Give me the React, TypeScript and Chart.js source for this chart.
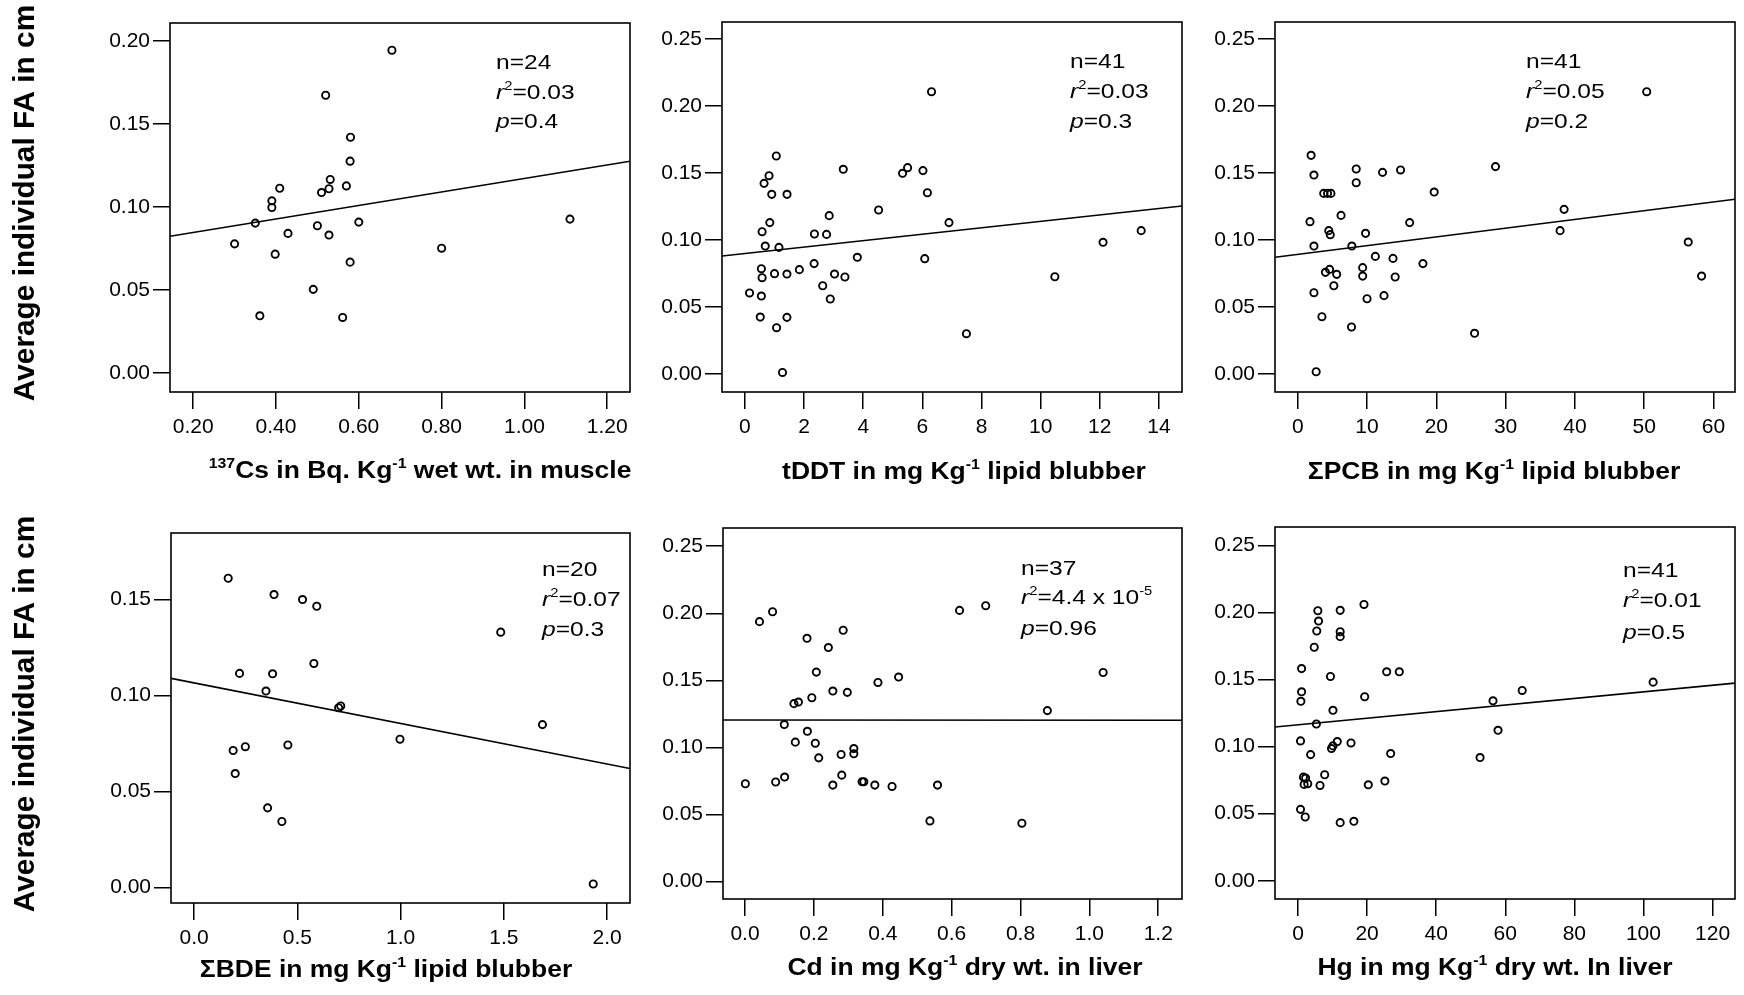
import React, { useEffect, useRef } from "react";
import { Chart, registerables } from "chart.js";

Chart.register(...registerables);

const FONT = '"Liberation Sans", Arial, Helvetica, sans-serif';

type Seg = { t: string; it?: boolean; sup?: boolean };

// ---------- Panel A: 137Cs ----------
const csX = [0.68, 0.52, 0.58, 0.579, 0.531, 0.528, 0.57, 0.51, 0.409, 0.39, 0.39, 0.35, 0.6, 0.5, 0.429, 0.528, 0.3, 0.398, 0.8, 1.11, 0.579, 0.49, 0.361, 0.561];
const csY = [0.1944, 0.1673, 0.142, 0.1276, 0.1166, 0.111, 0.1127, 0.1087, 0.1113, 0.1037, 0.0997, 0.0903, 0.0909, 0.0887, 0.0841, 0.0831, 0.0778, 0.0716, 0.0752, 0.0927, 0.0668, 0.0504, 0.0345, 0.0335];
const csFitX = [0.144, 1.255];
const csFitY = [0.0824, 0.1276];
const csXTicks = [0.2, 0.4, 0.6, 0.8, 1.0, 1.2];
const csXLabels = ["0.20", "0.40", "0.60", "0.80", "1.00", "1.20"];

// ---------- Panel B: tDDT ----------
const ddtX = [6.31, 1.06, 0.815, 0.647, 0.906, 1.423, 3.325, 5.33, 5.5, 6.02, 6.17, 4.52, 2.85, 6.9, 0.84, 0.58, 2.35, 2.76, 13.4, 12.11, 0.686, 1.15, 3.8, 6.08, 2.34, 0.556, 0.58, 1.0, 1.42, 1.84, 3.03, 3.38, 10.48, 2.63, 0.155, 0.556, 2.885, 0.518, 1.42, 1.07, 7.49, 1.27];
const ddtY = [0.2107, 0.1627, 0.148, 0.1423, 0.1341, 0.1341, 0.1528, 0.1498, 0.154, 0.1518, 0.1353, 0.1224, 0.1182, 0.113, 0.113, 0.1062, 0.1045, 0.1042, 0.107, 0.0983, 0.0955, 0.0945, 0.0871, 0.0861, 0.0824, 0.0786, 0.0719, 0.0749, 0.0746, 0.0779, 0.0746, 0.0724, 0.0726, 0.0659, 0.0605, 0.0582, 0.056, 0.0425, 0.0423, 0.0346, 0.0301, 0.0012];
const ddtFitX = [-0.776, 14.78];
const ddtFitY = [0.0881, 0.1254];
const ddtXTicks = [0, 2, 4, 6, 8, 10, 12, 14];
const ddtXLabels = ["0", "2", "4", "6", "8", "10", "12", "14"];

// ---------- Panel C: PCB ----------
const pcbX = [50.36, 1.93, 2.34, 8.44, 8.44, 12.24, 14.84, 28.54, 19.69, 3.75, 4.79, 6.25, 38.44, 1.77, 16.15, 4.48, 4.69, 9.79, 37.86, 2.34, 7.81, 56.35, 11.2, 13.75, 18.07, 4.0, 4.6, 5.62, 9.37, 9.37, 14.06, 58.28, 5.21, 2.34, 12.45, 10.0, 3.49, 7.76, 25.52, 2.66, 4.3];
const pcbY = [0.2107, 0.1632, 0.1485, 0.153, 0.1428, 0.1505, 0.1523, 0.1548, 0.1358, 0.1348, 0.1348, 0.1184, 0.1229, 0.1137, 0.113, 0.107, 0.104, 0.105, 0.107, 0.0955, 0.0955, 0.0985, 0.0878, 0.0863, 0.0824, 0.0759, 0.0781, 0.0744, 0.0794, 0.0731, 0.0724, 0.0731, 0.0659, 0.0607, 0.0585, 0.0562, 0.0428, 0.0351, 0.0304, 0.0017, 0.1348];
const pcbFitX = [-3.28, 63.1];
const pcbFitY = [0.0871, 0.1304];
const pcbXTicks = [0, 10, 20, 30, 40, 50, 60];
const pcbXLabels = ["0", "10", "20", "30", "40", "50", "60"];

// ---------- Panel D: BDE ----------
const bdeX = [0.165, 0.387, 0.525, 0.594, 1.485, 0.58, 0.22, 0.38, 0.348, 0.7, 1.687, 0.997, 0.189, 0.248, 0.454, 0.199, 0.356, 0.425, 1.933, 0.71];
const bdeY = [0.1611, 0.1526, 0.15, 0.1465, 0.133, 0.1167, 0.1115, 0.1113, 0.1023, 0.0936, 0.0848, 0.0772, 0.0713, 0.0733, 0.0742, 0.0593, 0.0414, 0.0343, 0.0017, 0.0945];
const bdeFitX = [-0.112, 2.111];
const bdeFitY = [0.1089, 0.0619];
const bdeXTicks = [0, 0.5, 1.0, 1.5, 2.0];
const bdeXLabels = ["0.0", "0.5", "1.0", "1.5", "2.0"];

// ---------- Panel E: Cd ----------
const cdX = [0.042, 0.08, 0.623, 0.699, 0.285, 0.18, 0.242, 0.207, 0.446, 1.04, 0.386, 0.255, 0.297, 0.194, 0.142, 0.155, 0.878, 0.114, 0.181, 0.146, 0.204, 0.316, 0.316, 0.279, 0.214, 0.281, 0.115, 0.089, 0.001, 0.255, 0.34, 0.377, 0.427, 0.559, 0.537, 0.804, 0.345];
const cdY = [0.1938, 0.2012, 0.2022, 0.2057, 0.1874, 0.1814, 0.1745, 0.1562, 0.1525, 0.1559, 0.1485, 0.1421, 0.1411, 0.1371, 0.1327, 0.1339, 0.1275, 0.1171, 0.1121, 0.104, 0.1032, 0.0992, 0.0953, 0.0948, 0.0923, 0.0794, 0.078, 0.0743, 0.073, 0.072, 0.0745, 0.072, 0.071, 0.072, 0.0453, 0.0436, 0.0745];
const cdFitX = [-0.064, 1.269];
const cdFitY = [0.1205, 0.1203];
const cdXTicks = [0, 0.2, 0.4, 0.6, 0.8, 1.0, 1.2];
const cdXLabels = ["0.0", "0.2", "0.4", "0.6", "0.8", "1.0", "1.2"];

// ---------- Panel F: Hg ----------
const hgX = [5.74, 5.95, 12.21, 19.1, 5.43, 12.21, 12.21, 4.7, 1.04, 25.67, 29.32, 9.39, 102.8, 1.04, 64.9, 0.83, 19.3, 56.45, 10.12, 5.32, 57.9, 0.73, 11.37, 15.34, 9.7, 10.1, 3.65, 26.82, 52.7, 7.72, 1.57, 1.77, 2.82, 6.37, 20.35, 25.15, 0.73, 2.09, 12.21, 16.17, 2.2];
const hgY = [0.2012, 0.1935, 0.2015, 0.2059, 0.1861, 0.1856, 0.1819, 0.174, 0.1581, 0.1557, 0.1557, 0.1522, 0.148, 0.1408, 0.1418, 0.1337, 0.1371, 0.1341, 0.127, 0.1168, 0.1121, 0.1042, 0.1037, 0.1027, 0.0985, 0.1005, 0.094, 0.0948, 0.0918, 0.079, 0.0772, 0.0718, 0.0723, 0.071, 0.0715, 0.0743, 0.0532, 0.0475, 0.0433, 0.0443, 0.0765];
const hgFitX = [-6.66, 126.5];
const hgFitY = [0.1146, 0.1473];
const hgXTicks = [0, 20, 40, 60, 80, 100, 120];
const hgXLabels = ["0", "20", "40", "60", "80", "100", "120"];

// ---------- Y ticks ----------
const yTicks25 = [0, 0.05, 0.1, 0.15, 0.2, 0.25];
const yLabels25 = ["0.00", "0.05", "0.10", "0.15", "0.20", "0.25"];
const yTicks20 = [0, 0.05, 0.1, 0.15, 0.2];
const yLabels20 = ["0.00", "0.05", "0.10", "0.15", "0.20"];
const yTicks15 = [0, 0.05, 0.1, 0.15];
const yLabels15 = ["0.00", "0.05", "0.10", "0.15"];

// ---------- Text ----------
const yAxisTitle = "Average individual FA in cm";
const statN = ["n=24", "n=41", "n=41", "n=20", "n=37", "n=41"];
const statR2 = ["=0.03", "=0.03", "=0.05", "=0.07", "=4.4 x 10", "=0.01"];
const statR2Exp = ["", "", "", "", "-5", ""];
const statP = ["=0.4", "=0.3", "=0.2", "=0.3", "=0.96", "=0.5"];
const xTitles: Seg[][] = [
  [{ t: "137", sup: true }, { t: "Cs in Bq. Kg" }, { t: "-1", sup: true }, { t: " wet wt. in muscle" }],
  [{ t: "tDDT in mg Kg" }, { t: "-1", sup: true }, { t: " lipid blubber" }],
  [{ t: "ΣPCB in mg Kg" }, { t: "-1", sup: true }, { t: " lipid blubber" }],
  [{ t: "ΣBDE in mg Kg" }, { t: "-1", sup: true }, { t: " lipid blubber" }],
  [{ t: "Cd in mg Kg" }, { t: "-1", sup: true }, { t: " dry wt. in liver" }],
  [{ t: "Hg in mg Kg" }, { t: "-1", sup: true }, { t: " dry wt. In liver" }],
];

type PanelCfg = {
  idx: number;
  box: [number, number, number, number];
  yW: number;
  xRange: [number, number];
  yRange: [number, number];
  xTicks: number[];
  xLabels: string[];
  yTicks: number[];
  yLabels: string[];
  xs: number[];
  ys: number[];
  fitX: number[];
  fitY: number[];
  titleCx: number;
  titleBase: number;
  statX: number;
  statBase: [number, number, number];
  yTitleC?: [number, number];
};

const PAD_T = 20;
const PAD_R = 8;
const X_H = 100;
const STRETCH = 1.15;

function drawSegs(
  ctx: CanvasRenderingContext2D,
  segs: Seg[],
  x: number,
  base: number,
  size: number,
  bold: boolean,
  align: "left" | "center",
  stretch: number
) {
  const supSize = size * 0.6;
  const fontOf = (s: Seg) => `${s.it ? "italic " : ""}${bold ? "bold " : ""}${s.sup ? supSize : size}px ${FONT}`;
  const widths = segs.map((s) => {
    ctx.font = fontOf(s);
    return ctx.measureText(s.t).width;
  });
  const total = widths.reduce((a, b) => a + b, 0) * stretch;
  const start = align === "center" ? x - total / 2 : x;
  ctx.save();
  ctx.translate(start, base);
  ctx.scale(stretch, 1);
  ctx.fillStyle = "#000";
  ctx.textAlign = "left";
  ctx.textBaseline = "alphabetic";
  let cx = 0;
  segs.forEach((s, i) => {
    ctx.font = fontOf(s);
    ctx.fillText(s.t, cx, s.sup ? -size * 0.42 : 0);
    cx += widths[i];
  });
  ctx.restore();
}

function Panel({ cfg }: { cfg: PanelCfg }) {
  const ref = useRef<HTMLCanvasElement | null>(null);
  const [L, T, R, B] = cfg.box;
  const ox = L - cfg.yW;
  const oy = T - PAD_T;
  const W = cfg.yW + (R - L) + PAD_R;
  const H = PAD_T + (B - T) + X_H;

  useEffect(() => {
    if (!ref.current) return;
    const i = cfg.idx;
    const overlay = {
      id: "overlay" + i,
      afterDraw(chart: any) {
        const ctx: CanvasRenderingContext2D = chart.ctx;
        const a = chart.chartArea;
        ctx.save();
        ctx.strokeStyle = "#000";
        ctx.lineWidth = 1.6;
        ctx.strokeRect(a.left, a.top, a.right - a.left, a.bottom - a.top);
        ctx.restore();
        // x title
        drawSegs(ctx, xTitles[i], cfg.titleCx - ox, cfg.titleBase - oy, 23, true, "center", STRETCH);
        // stats
        const sx = cfg.statX - ox;
        drawSegs(ctx, [{ t: statN[i] }], sx, cfg.statBase[0] - oy, 21, false, "left", 1.17);
        const r2: Seg[] = [{ t: "r", it: true }, { t: "2", sup: true }, { t: statR2[i] }];
        if (statR2Exp[i]) r2.push({ t: statR2Exp[i], sup: true });
        drawSegs(ctx, r2, sx, cfg.statBase[1] - oy, 21, false, "left", 1.17);
        drawSegs(ctx, [{ t: "p", it: true }, { t: statP[i] }], sx, cfg.statBase[2] - oy, 21, false, "left", 1.17);
        // y title
        if (cfg.yTitleC) {
          ctx.save();
          ctx.translate(cfg.yTitleC[0] - ox, cfg.yTitleC[1] - oy);
          ctx.rotate(-Math.PI / 2);
          ctx.font = `bold 29.8px ${FONT}`;
          ctx.fillStyle = "#000";
          ctx.textAlign = "center";
          ctx.textBaseline = "middle";
          ctx.fillText(yAxisTitle, 0, 0);
          ctx.restore();
        }
      },
    };

    const tickFont = { family: FONT, size: 21 };
    const chart = new Chart(ref.current, {
      type: "scatter",
      data: {
        datasets: [
          {
            type: "scatter",
            data: cfg.xs.map((x, k) => ({ x, y: cfg.ys[k] })),
            pointRadius: 3.6,
            pointHoverRadius: 3.6,
            pointBorderWidth: 1.9,
            pointBorderColor: "#000",
            pointBackgroundColor: "rgba(0,0,0,0)",
            borderColor: "#000",
            backgroundColor: "rgba(0,0,0,0)",
          } as any,
          {
            type: "line",
            data: cfg.fitX.map((x, k) => ({ x, y: cfg.fitY[k] })),
            borderColor: "#000",
            borderWidth: 1.6,
            pointRadius: 0,
            fill: false,
            tension: 0,
          } as any,
        ],
      },
      options: {
        animation: false,
        responsive: false,
        devicePixelRatio: 1,
        events: [],
        layout: { padding: { left: 0, top: PAD_T, right: PAD_R, bottom: 0 } },
        plugins: { legend: { display: false }, tooltip: { enabled: false } },
        scales: {
          x: {
            type: "linear",
            position: "bottom",
            min: cfg.xRange[0],
            max: cfg.xRange[1],
            afterFit: (s: any) => {
              s.height = X_H;
            },
            afterBuildTicks: (s: any) => {
              s.ticks = cfg.xTicks.map((v) => ({ value: v }));
            },
            ticks: {
              callback: (_v: any, k: number) => cfg.xLabels[k],
              font: tickFont,
              color: "#000",
              padding: 6,
              autoSkip: false,
              maxRotation: 0,
              minRotation: 0,
            },
            grid: { drawOnChartArea: false, drawTicks: true, tickLength: 17, color: "#000", lineWidth: 1.5 },
            border: { display: false },
          },
          y: {
            type: "linear",
            position: "left",
            min: cfg.yRange[0],
            max: cfg.yRange[1],
            afterFit: (s: any) => {
              s.width = cfg.yW;
            },
            afterBuildTicks: (s: any) => {
              s.ticks = cfg.yTicks.map((v) => ({ value: v }));
            },
            ticks: {
              callback: (_v: any, k: number) => cfg.yLabels[k],
              font: tickFont,
              color: "#000",
              padding: 3,
              autoSkip: false,
            },
            grid: { drawOnChartArea: false, drawTicks: true, tickLength: 17, color: "#000", lineWidth: 1.5 },
            border: { display: false },
          },
        },
      } as any,
      plugins: [overlay],
    });
    return () => chart.destroy();
  }, []);

  return (
    <canvas
      ref={ref}
      width={W}
      height={H}
      style={{ position: "absolute", left: ox, top: oy, width: W, height: H }}
    />
  );
}

const panels: PanelCfg[] = [
  {
    idx: 0, box: [170, 23, 630, 392], yW: 170, xRange: [0.144, 1.255], yRange: [-0.0114, 0.2108],
    xTicks: csXTicks, xLabels: csXLabels, yTicks: yTicks20, yLabels: yLabels20, xs: csX, ys: csY,
    fitX: csFitX, fitY: csFitY, titleCx: 420, titleBase: 478, statX: 496, statBase: [69, 99, 128], yTitleC: [26, 203],
  },
  {
    idx: 1, box: [722, 22, 1182, 392], yW: 90, xRange: [-0.776, 14.78], yRange: [-0.0134, 0.2627],
    xTicks: ddtXTicks, xLabels: ddtXLabels, yTicks: yTicks25, yLabels: yLabels25, xs: ddtX, ys: ddtY,
    fitX: ddtFitX, fitY: ddtFitY, titleCx: 964, titleBase: 479, statX: 1070, statBase: [68, 98, 128],
  },
  {
    idx: 2, box: [1275, 22, 1735, 392], yW: 90, xRange: [-3.28, 63.1], yRange: [-0.0134, 0.2627],
    xTicks: pcbXTicks, xLabels: pcbXLabels, yTicks: yTicks25, yLabels: yLabels25, xs: pcbX, ys: pcbY,
    fitX: pcbFitX, fitY: pcbFitY, titleCx: 1494, titleBase: 479, statX: 1526, statBase: [68, 98, 128],
  },
  {
    idx: 3, box: [171, 533, 630, 903], yW: 171, xRange: [-0.112, 2.111], yRange: [-0.0082, 0.1847],
    xTicks: bdeXTicks, xLabels: bdeXLabels, yTicks: yTicks15, yLabels: yLabels15, xs: bdeX, ys: bdeY,
    fitX: bdeFitX, fitY: bdeFitY, titleCx: 386, titleBase: 977, statX: 542, statBase: [576, 606, 636], yTitleC: [26, 714],
  },
  {
    idx: 4, box: [723, 528, 1182, 899], yW: 90, xRange: [-0.064, 1.269], yRange: [-0.0129, 0.2636],
    xTicks: cdXTicks, xLabels: cdXLabels, yTicks: yTicks25, yLabels: yLabels25, xs: cdX, ys: cdY,
    fitX: cdFitX, fitY: cdFitY, titleCx: 965, titleBase: 975, statX: 1021, statBase: [575, 604, 635],
  },
  {
    idx: 5, box: [1275, 527, 1735, 899], yW: 90, xRange: [-6.66, 126.5], yRange: [-0.0136, 0.2636],
    xTicks: hgXTicks, xLabels: hgXLabels, yTicks: yTicks25, yLabels: yLabels25, xs: hgX, ys: hgY,
    fitX: hgFitX, fitY: hgFitY, titleCx: 1495, titleBase: 975, statX: 1623, statBase: [577, 607, 639],
  },
];

export default function App() {
  return (
    <div style={{ position: "absolute", left: 0, top: 0, width: 1744, height: 995, background: "#fff" }}>
      {panels.map((p) => (
        <Panel key={p.idx} cfg={p} />
      ))}
    </div>
  );
}
